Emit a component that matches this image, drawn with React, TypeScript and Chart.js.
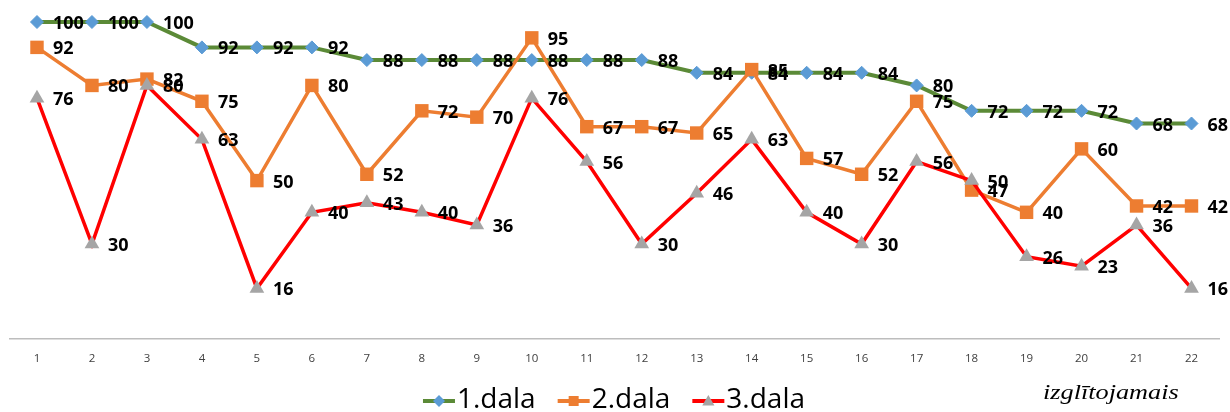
import React, { useEffect, useRef } from "react";
import { Chart, registerables } from "chart.js";

Chart.register(...registerables);

const categories = ["1", "2", "3", "4", "5", "6", "7", "8", "9", "10", "11", "12", "13", "14", "15", "16", "17", "18", "19", "20", "21", "22"];
const dala1 = [100, 100, 100, 92, 92, 92, 88, 88, 88, 88, 88, 88, 84, 84, 84, 84, 80, 72, 72, 72, 68, 68];
const dala2 = [92, 80, 82, 75, 50, 80, 52, 72, 70, 95, 67, 67, 65, 85, 57, 52, 75, 47, 40, 60, 42, 42];
const dala3 = [76, 30, 80, 63, 16, 40, 43, 40, 36, 76, 56, 30, 46, 63, 40, 30, 56, 50, 26, 23, 36, 16];
const seriesNames = ["1.dala", "2.dala", "3.dala"];
const footnote = "izglītojamais";

const W = 1230;
const H = 412;

const GREEN = "#5B8A37";
const BLUE = "#5B9BD5";
const ORANGE = "#ED7D31";
const RED = "#FF0000";
const GRAY = "#A5A5A5";

function drawMarker(ctx: CanvasRenderingContext2D, style: string, x: number, y: number, r: number, color: string) {
  ctx.save();
  ctx.fillStyle = color;
  ctx.beginPath();
  if (style === "rectRot") {
    ctx.moveTo(x - r, y);
    ctx.lineTo(x, y - r);
    ctx.lineTo(x + r, y);
    ctx.lineTo(x, y + r);
  } else if (style === "rect") {
    ctx.rect(x - r, y - r, 2 * r, 2 * r);
  } else {
    ctx.moveTo(x, y - r);
    ctx.lineTo(x + r * 0.866, y + r / 2);
    ctx.lineTo(x - r * 0.866, y + r / 2);
  }
  ctx.closePath();
  ctx.fill();
  ctx.restore();
}

const pointLabelsPlugin = {
  id: "pointLabels",
  afterDatasetsDraw(chart: any) {
    const ctx: CanvasRenderingContext2D = chart.ctx;
    ctx.save();
    ctx.font = 'bold 18px "Open Sans"';
    ctx.fillStyle = "#000000";
    ctx.textAlign = "left";
    ctx.textBaseline = "alphabetic";
    chart.data.datasets.forEach((ds: any, i: number) => {
      const meta = chart.getDatasetMeta(i);
      meta.data.forEach((el: any, j: number) => {
        ctx.fillText(String(ds.data[j]), el.x + 16, el.y + 7);
      });
    });
    ctx.restore();
  },
};

const legendPlugin = {
  id: "customLegend",
  afterDraw(chart: any) {
    const ctx: CanvasRenderingContext2D = chart.ctx;
    ctx.save();
    ctx.font = '28px "Open Sans"';
    const symW = 32;
    const gapText = 2;
    const gapItem = 22;
    const items = chart.data.datasets.map((ds: any) => ({
      text: ds.label as string,
      line: ds.borderColor as string,
      marker: ds.pointBackgroundColor as string,
      style: ds.pointStyle as string,
      w: symW + gapText + ctx.measureText(ds.label).width,
    }));
    const total = items.reduce((s: number, it: any) => s + it.w, 0) + gapItem * (items.length - 1);
    let x = 614 - total / 2;
    const yc = 401;
    items.forEach((it: any) => {
      ctx.strokeStyle = it.line;
      ctx.lineWidth = 4;
      ctx.beginPath();
      ctx.moveTo(x, yc);
      ctx.lineTo(x + symW, yc);
      ctx.stroke();
      const r = it.style === "rectRot" ? 6 : it.style === "rect" ? 5 : 7;
      drawMarker(ctx, it.style, x + symW / 2, yc + (it.style === "triangle" ? 1 : 0), r, it.marker);
      ctx.fillStyle = "#000000";
      ctx.textAlign = "left";
      ctx.textBaseline = "alphabetic";
      ctx.fillText(it.text, x + symW + gapText, 408);
      x += it.w + gapItem;
    });
    // footnote
    ctx.font = 'italic 21px "Liberation Serif"';
    ctx.fillStyle = "#000000";
    ctx.translate(1043, 399);
    ctx.scale(1.25, 1);
    ctx.fillText(footnote, 0, 0);
    ctx.restore();
  },
};

export default function App() {
  const canvasRef = useRef<HTMLCanvasElement | null>(null);

  useEffect(() => {
    if (!canvasRef.current) return;
    const chart = new Chart(canvasRef.current, {
      type: "line",
      data: {
        labels: categories,
        datasets: [
          {
            label: seriesNames[0],
            data: dala1,
            borderColor: GREEN,
            borderWidth: 4,
            pointStyle: "rectRot",
            pointRadius: 6.5,
            pointBackgroundColor: BLUE,
            pointBorderColor: BLUE,
            pointBorderWidth: 1,
            tension: 0,
            order: 3,
            clip: false,
          },
          {
            label: seriesNames[1],
            data: dala2,
            borderColor: ORANGE,
            borderWidth: 3.5,
            pointStyle: "rect",
            pointRadius: 9.5,
            pointBackgroundColor: ORANGE,
            pointBorderColor: ORANGE,
            pointBorderWidth: 0,
            tension: 0,
            order: 2,
            clip: false,
          },
          {
            label: seriesNames[2],
            data: dala3,
            borderColor: RED,
            borderWidth: 3.5,
            pointStyle: "triangle",
            pointRadius: 8.5,
            pointBackgroundColor: GRAY,
            pointBorderColor: GRAY,
            pointBorderWidth: 0,
            tension: 0,
            order: 1,
            clip: false,
          },
        ] as any,
      },
      options: {
        responsive: false,
        animation: false,
        devicePixelRatio: 1,
        layout: { padding: { left: 6, right: 11, top: 22, bottom: 33 } },
        plugins: {
          legend: { display: false },
          tooltip: { enabled: false },
          title: { display: false },
        },
        scales: {
          x: {
            offset: true,
            grid: { display: false, drawTicks: false },
            border: { display: true, color: "#BDBDBD", width: 1.5 },
            ticks: {
              padding: 13,
              color: "#404040",
              font: { family: '"Open Sans"', size: 11.5 },
              maxRotation: 0,
              autoSkip: false,
            },
          },
          y: {
            display: false,
            min: 0,
            max: 100,
          },
        },
      },
      plugins: [pointLabelsPlugin, legendPlugin],
    });
    return () => chart.destroy();
  }, []);

  return (
    <div style={{ position: "fixed", left: 0, top: 0, width: W, height: H, background: "#ffffff" }}>
      <canvas ref={canvasRef} width={W} height={H} style={{ display: "block" }} />
    </div>
  );
}
